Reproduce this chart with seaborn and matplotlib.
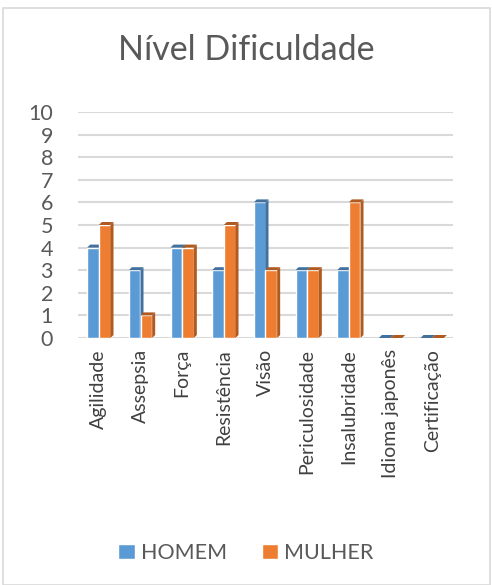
import pandas as pd
import numpy as np
import seaborn as sb
import matplotlib.pyplot as plt
from matplotlib.patches import Polygon, Rectangle

# data
categorias = ['Agilidade', 'Assepsia', 'Força', 'Resistência', 'Visão',
              'Periculosidade', 'Insalubridade', 'Idioma japonês', 'Certificação']
homem = [4, 3, 4, 3, 6, 3, 3, 0, 0]
mulher = [5, 1, 4, 5, 3, 3, 6, 0, 0]
grupos = ['HOMEM', 'MULHER']

df = pd.DataFrame({
    'categoria': categorias * 2,
    'valor': homem + mulher,
    'grupo': [grupos[0]] * len(categorias) + [grupos[1]] * len(categorias),
})

cores = ['#5B9BD5', '#ED7D31']
cores_escuras = ['#41719C', '#AE5A21']

sb.set_style('white')
plt.rcParams['font.family'] = ['Lato', 'DejaVu Sans']

fig = plt.figure(figsize=(4.92, 5.85), dpi=100)
ax = fig.add_axes([78 / 492, 1 - 338 / 585, 375 / 492, 226 / 585])

sb.barplot(data=df, x='categoria', y='valor', hue='grupo', palette=cores,
           width=0.56, saturation=1, ax=ax, zorder=2)

ax.set_ylim(0, 10)
ax.set_xlim(-0.5, len(categorias) - 0.5)
ax.set_yticks(range(0, 11))
ax.set_axisbelow(True)
ax.yaxis.grid(True, color='#D9D9D9', lw=1.5)
ax.xaxis.grid(False)
for s in ax.spines.values():
    s.set_visible(False)
ax.set_xlabel('')
ax.set_ylabel('')
ax.tick_params(axis='y', length=0, pad=18, labelsize=15.5, labelcolor='#595959')
ax.tick_params(axis='x', length=0, pad=8, labelsize=14, labelcolor='#404040')
plt.setp(ax.get_xticklabels(), rotation=90, va='top')

# fake 3D depth: side and top faces of each bar
dx = 3 / (375 / 9)
dy = 3 / (226 / 10)
n = len(categorias)
for i, p in enumerate(ax.patches[:2 * n]):
    g = i // n
    x, w, h = p.get_x(), p.get_width(), p.get_height()
    p.set_zorder(2 + g)
    side = Polygon([(x + w, 0), (x + w + dx, dy), (x + w + dx, h + dy), (x + w, h)],
                   closed=True, facecolor=cores_escuras[g], edgecolor='none',
                   zorder=2.5 + g, clip_on=False)
    top = Polygon([(x, h), (x + dx, h + dy), (x + w + dx, h + dy), (x + w, h)],
                  closed=True, facecolor=cores_escuras[g], edgecolor='none',
                  zorder=2.5 + g, clip_on=False)
    ax.add_patch(side)
    ax.add_patch(top)

# legend at the bottom
sb.move_legend(ax, 'center', bbox_to_anchor=(0.5, 1 - 553 / 585),
               bbox_transform=fig.transFigure, ncol=2, frameon=False, title=None,
               fontsize=15.5, handlelength=0.75, handleheight=0.75, columnspacing=1.6,
               handletextpad=0.3)
for t in ax.get_legend().get_texts():
    t.set_color('#595959')

fig.text(0.5, 1 - 50 / 585, 'Nível Dificuldade', ha='center', va='center',
         fontsize=24.5, color='#595959')

# chart border
fig.patches.append(Rectangle((3 / 492, 0), 487 / 492, 1 - 8 / 585,
                             transform=fig.transFigure, fill=False,
                             edgecolor='#D9D9D9', lw=1.2))

plt.savefig('out.png', dpi=100)
